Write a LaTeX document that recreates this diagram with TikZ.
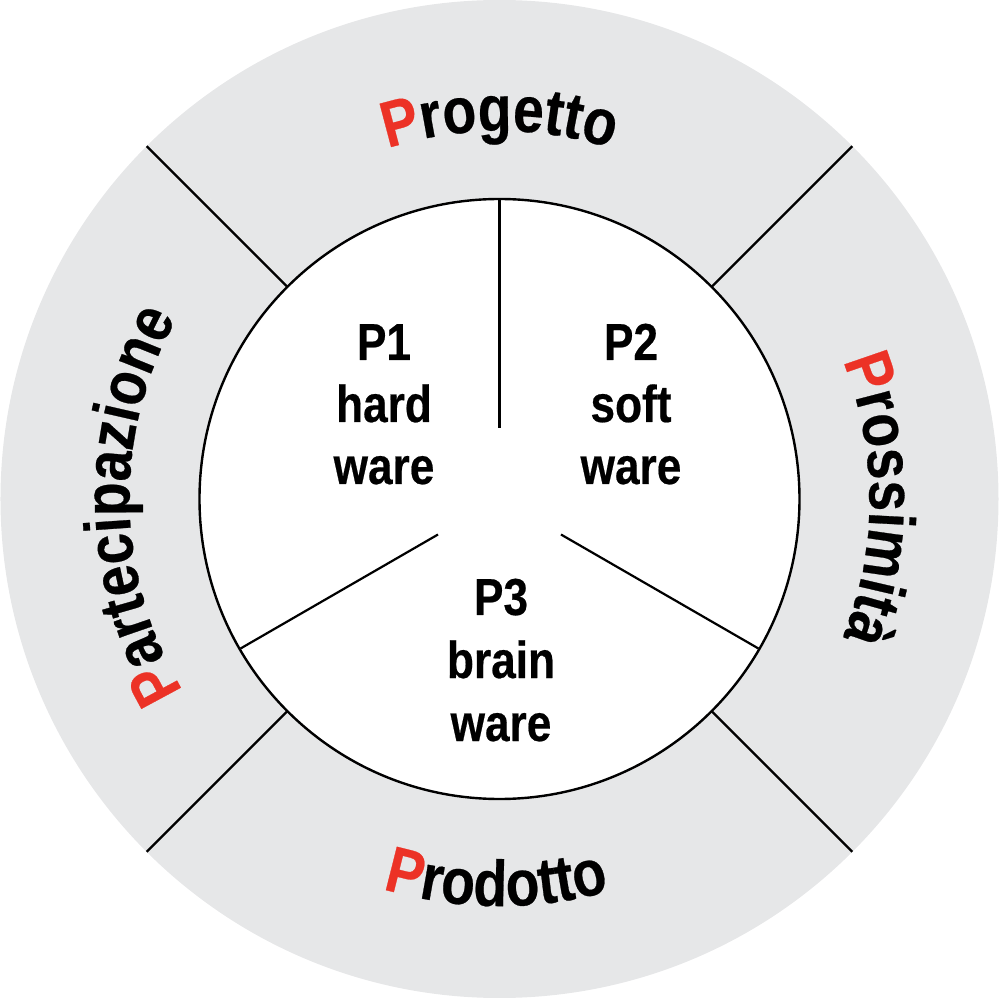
\documentclass[tikz,border=0pt]{standalone}
\usepackage{fontspec}
\usetikzlibrary{decorations.text}
\newfontfamily\condfont[FakeStretch=0.85,FakeBold=0.4]{Liberation Sans}
\definecolor{ringgray}{RGB}{230,231,232}
\definecolor{pred}{RGB}{236,50,38}
\newcommand{\ringfont}{\condfont\bfseries\fontsize{65}{78}\selectfont}
\newcommand{\labfont}{\condfont\bfseries\fontsize{52}{62}\selectfont}
\tikzset{
  divider/.style={line width=2.2pt, line cap=butt},
  labline/.style={font=\labfont, anchor=base, inner sep=0pt},
  ringtext/.style={decorate, decoration={text along path, text align=center, text={#1}}}
}
\begin{document}
\begin{tikzpicture}[x=1pt,y=1pt]
\useasboundingbox (-499.5,-499) rectangle (499.5,499);
% outer ring
\fill[ringgray] (0,0) circle[radius=499];
% ring dividers
\foreach \a in {45,135,225,315}{
  \coordinate (ri\a) at (\a:300);
  \coordinate (ro\a) at (\a:499);
  \draw[divider] (ri\a) -- (ro\a);
}
% inner circle
\node[circle, fill=white, draw=black, line width=2.4pt, minimum size=600pt, inner sep=0pt] (inner) at (0,0) {};
% inner dividers
\foreach \a in {90,210,330}{
  \coordinate (ci\a) at (\a:71);
  \coordinate (co\a) at (\a:299);
  \draw[divider] (ci\a) -- (co\a);
}
% inner labels
\node[labline] (p1a) at (-115.5,139) {P1};
\node[labline] (p1b) at (-115.5,77) {hard};
\node[labline] (p1c) at (-115.5,15) {ware};
\node[labline] (p2a) at (131.5,139) {P2};
\node[labline] (p2b) at (131.5,77) {soft};
\node[labline] (p2c) at (131.5,15) {ware};
\node[labline] (p3a) at (1.5,-116) {P3};
\node[labline] (p3b) at (1.5,-179) {brain};
\node[labline] (p3c) at (1.5,-242) {ware};
% ring texts
\path[ringtext={|\ringfont\color{pred}|P|\ringfont\color{black}|rogetto}]
  (150:368) arc[start angle=150, end angle=30, radius=368];
\path[ringtext={|\ringfont\color{pred}|P|\ringfont\color{black}|rossimità}]
  (60:370) arc[start angle=60, end angle=-60, radius=370];
\path[ringtext={|\ringfont\color{pred}|P|\ringfont\color{black}|artecipazione}]
  (241:370) arc[start angle=241, end angle=121, radius=370];
\path[ringtext={|\ringfont\color{pred}|P|\ringfont\color{black}|rodotto}]
  (209.5:407) arc[start angle=209.5, end angle=329.5, radius=407];
\end{tikzpicture}
\end{document}
